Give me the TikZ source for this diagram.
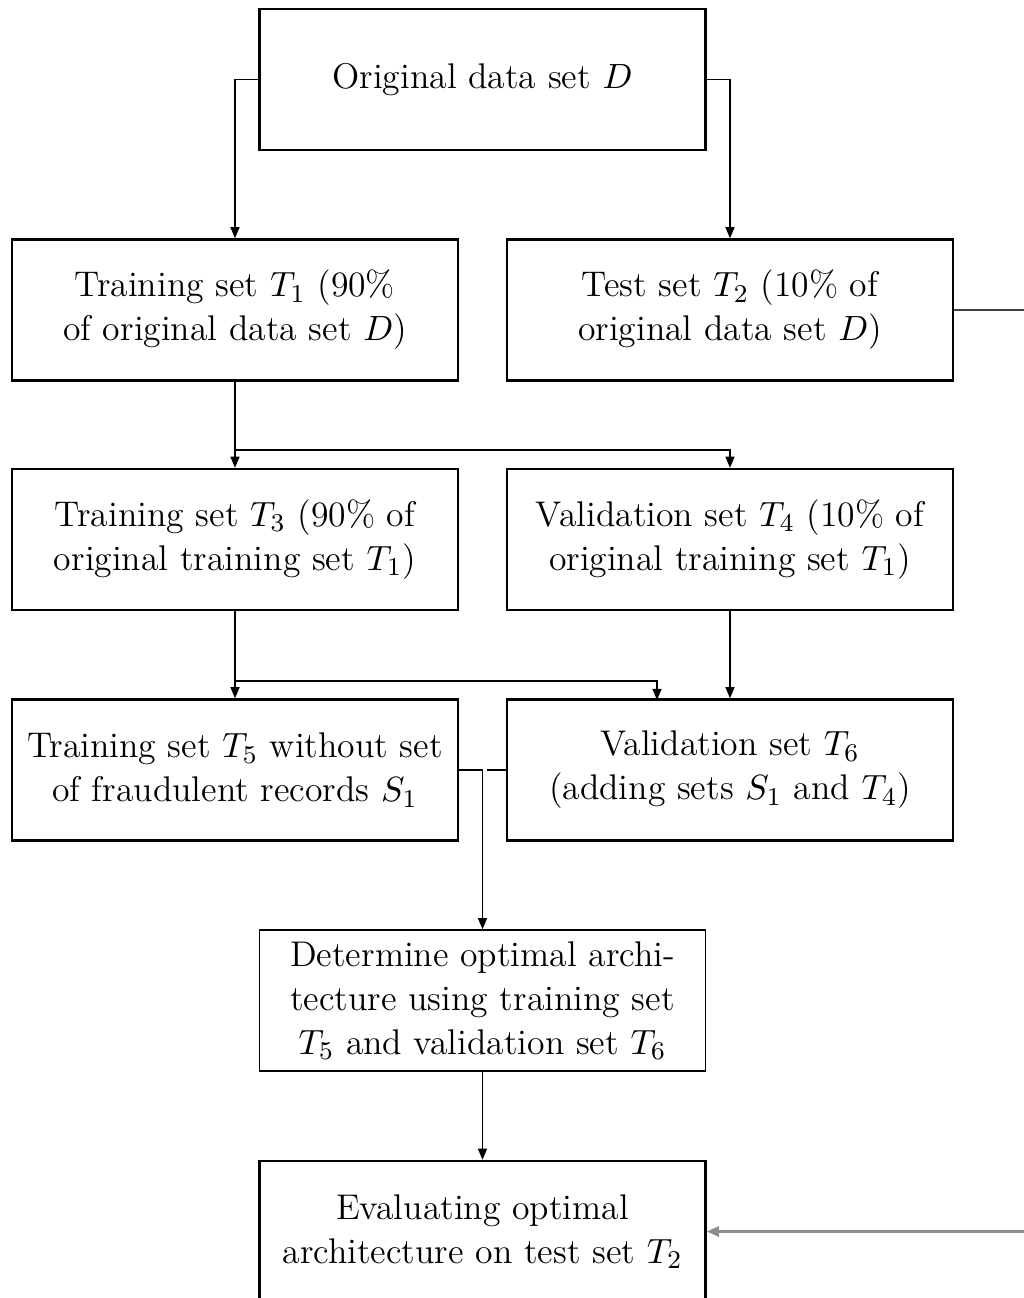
\documentclass[tikz,border=0pt]{standalone}
\usetikzlibrary{arrows.meta}
\begin{document}
\begin{tikzpicture}[x=0.3125pt, y=-0.3125pt,
  box/.style={draw, line width=0.8pt, minimum width=139.4pt, minimum height=44pt,
    inner sep=0pt, align=center, font=\fontsize{11.15}{13.75}\selectfont},
  thinbox/.style={box, line width=0.5pt},
  link/.style={line width=0.5pt, -{Triangle[length=3.5pt,width=2.8pt]}},
  plain/.style={line width=0.5pt},
  feed/.style={line width=0.8pt, black!45, -{Triangle[length=3.8pt,width=3.2pt]}}]
\clip (0,0) rectangle (1024,1298);

% boxes
\node[box] (A)  at (482.5,79.5)  {Original data set $D$};
\node[box] (T1) at (235,310)     {Training set $T_1$ (90\%\\of original data set $D$)};
\node[box] (T2) at (730,310)     {Test set $T_2$ (10\% of\\original data set $D$)};
\node[box] (T3) at (235,539.5)   {Training set $T_3$ (90\% of\\original training set $T_1$)};
\node[box] (T4) at (730,539.5)   {Validation set $T_4$ (10\% of\\original training set $T_1$)};
\node[box] (T5) at (235,770)     {Training set $T_5$ without set\\of fraudulent records $S_1$};
\node[box] (T6) at (730,770)     {Validation set $T_6$\\(adding sets $S_1$ and $T_4$)};
\node[thinbox] (Dt) at (482.5,1000.5) {Determine optimal archi-\\tecture using training set\\$T_5$ and validation set $T_6$};
\node[box] (E)  at (482.5,1231.5) {Evaluating optimal\\architecture on test set $T_2$};

% helper points
\coordinate (b1) at (235,450);
\coordinate (b2) at (235,681);
\coordinate (t6in) at (657,700);
\coordinate (t6end) at (487,770);
\coordinate (rt) at (1024,310);
\coordinate (rb) at (1024,1231.5);

% connectors
\draw[link] (A.west) -| (T1.north);
\draw[link] (A.east) -| (T2.north);
\draw[link] (T1.south) -- (T3.north);
\draw[link] (b1) -| (T4.north);
\draw[link] (T3.south) -- (T5.north);
\draw[link] (b2) -| (t6in);
\draw[link] (T4.south) -- (T6.north);
\draw[link] (T5.east) -| (Dt.north);
\draw[plain] (T6.west) -- (t6end);
\draw[link] (Dt.south) -- (E.north);
\draw[plain, black!75] (T2.east) -- (rt);
\draw[feed] (rb) -- (E.east);
\end{tikzpicture}
\end{document}
